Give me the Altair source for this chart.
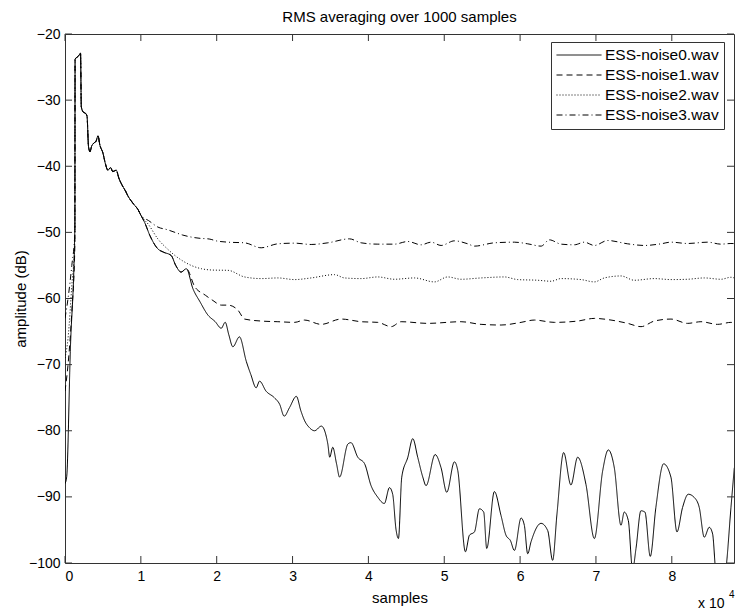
import altair as alt
import pandas as pd

FONT = "Liberation Sans"
AXC = "#333333"

series_names = ["ESS-noise0.wav", "ESS-noise1.wav", "ESS-noise2.wav", "ESS-noise3.wav"]
dash_patterns = [[1, 0], [6, 4], [1, 2], [6, 3, 1, 3]]

x_ticks = [0, 10000, 20000, 30000, 40000, 50000, 60000, 70000, 80000]
y_ticks = [-100, -90, -80, -70, -60, -50, -40, -30, -20]

# shared early part (all four recordings overlap)
early_x = [1330, 1600, 1800, 2050, 2150, 2400, 2700, 2900, 3100, 3300, 3500, 3800, 4100,
           4350, 4600, 5000, 5300, 5660, 6000, 6300, 6760, 7100, 7500, 8000, 8300, 8700,
           9100, 9600, 10050]
early_y = [-23.8, -23.5, -23.3, -22.9, -31.0, -31.8, -32.0, -32.4, -37.0, -37.8, -37.0, -36.5,
           -36.2, -35.4, -36.8, -38.0, -39.5, -40.6, -40.2, -40.8, -40.6, -41.8, -42.8, -43.8,
           -44.5, -45.2, -45.8, -46.5, -47.5]

# onsets
n0_start_x = [0, 220, 700, 1300]
n0_start_y = [-88, -87, -68, -49]
n1_start_x = [0, 400, 900, 1300]
n1_start_y = [-74, -70, -62, -52]
n2_start_x = [0, 400, 900, 1300]
n2_start_y = [-69, -66, -58, -51]
n3_start_x = [0, 400, 900, 1300]
n3_start_y = [-63, -60, -55, -50]

# tails
n0_x = [10500, 11200, 12250, 13000, 14000, 14600, 15300, 16000, 16860, 17800, 18840, 19800,
        20600, 21120, 21600, 22130, 23000, 23900, 24500, 25200, 25650, 26500, 27600, 28300,
        28900, 29600, 30500, 31100, 31600, 32200, 32900, 33800, 34650, 34900, 35300, 35800,
        36200, 37300, 37700, 38600, 39500, 40350, 41200, 42100, 42780, 43200, 43650, 43960,
        44400, 45200, 45850, 46500, 47170, 47600, 48800, 49580, 50330, 51340, 51780, 52790,
        53320, 53980, 54640, 55200, 55600, 56610, 57480, 58140, 58720, 59250, 60130, 60560,
        61000, 61440, 62760, 63640, 64290, 64860, 65740, 66700, 67590, 68680, 69790, 70880,
        71630, 72420, 73300, 73730, 74270, 74830, 75280, 75930, 76460, 77160, 77900, 78920,
        79880, 80680, 81420, 82170, 82970, 83620, 84280, 84940, 85380, 85810, 86500, 87130,
        87800, 88240]
n0_y = [-48.5, -50.5, -52.5, -53.0, -53.5, -55.0, -56.0, -55.5, -58.5, -60.5, -62.5, -63.5,
        -64.5, -63.6, -65.5, -67.3, -65.8, -69.5, -71.5, -73.5, -72.5, -74.0, -75.0, -76.0,
        -77.8, -76.5, -74.8, -77.0, -78.5, -79.5, -80.0, -79.3, -82.0, -84.0, -82.5, -85.0,
        -87.0, -82.0, -81.8, -84.0, -85.0, -88.3, -90.0, -91.0, -88.6, -89.6, -95.0, -96.3,
        -87.0, -84.0, -81.2, -84.0, -87.0, -88.3, -83.6, -85.6, -89.3, -84.7, -86.0, -98.3,
        -95.8, -95.3, -91.8, -92.3, -97.8, -89.2, -92.8, -95.8, -96.6, -98.1, -93.2, -94.3,
        -98.6, -96.8, -94.0, -95.1, -99.6, -92.6, -83.3, -88.2, -84.0, -88.1, -96.3, -86.1,
        -82.9, -85.6, -94.3, -92.3, -93.6, -101.0, -97.8, -92.1, -92.3, -99.0, -91.6, -85.0,
        -87.0, -95.3, -91.6, -89.6, -90.1, -91.6, -96.1, -94.6, -95.6, -101.5, -104.0, -101.0,
        -91.6, -85.6]

n1_x = [10500, 11200, 12250, 13000, 14000, 14600, 15300, 16000, 17100, 18500, 19500, 20600,
        21476, 22794, 23672, 25868, 28064, 30260, 31578, 33774, 36409, 39044, 41240, 42997,
        44314, 47828, 52220, 54855, 57490, 60126, 61882, 64518, 67592, 69788, 71984, 74180,
        75937, 77694, 79890, 82086, 83842, 86038, 87795, 88240]
n1_y = [-48.5, -50.5, -52.5, -53.0, -53.5, -55.0, -56.0, -55.5, -58.2, -59.5, -60.3, -61.0,
        -61.0, -61.75, -63.11, -63.41, -63.51, -63.61, -63.26, -63.91, -63.11, -63.51, -63.61,
        -64.26, -63.51, -63.76, -63.51, -63.91, -64.01, -63.61, -63.26, -63.61, -63.41, -63.01,
        -63.26, -63.76, -64.26, -63.41, -63.11, -63.76, -63.51, -63.91, -63.61, -63.7]

n2_x = [11000, 12250, 13500, 14500, 15500, 16640, 18000, 19500, 21476, 23672, 25868, 28064,
        30260, 32456, 35530, 36848, 39044, 41240, 43436, 46071, 48706, 50463, 52220, 54855,
        57930, 59686, 62322, 64078, 65396, 68031, 69788, 71106, 73302, 75058, 77694, 79890,
        82086, 84282, 86478, 87795, 88240]
n2_y = [-48.8, -51.0, -52.5, -53.5, -54.3, -55.0, -55.5, -55.7, -55.74, -56.74, -56.99, -56.89,
        -57.14, -56.89, -56.39, -56.89, -56.99, -56.74, -57.09, -56.89, -57.49, -56.74, -57.09,
        -56.89, -56.74, -57.14, -57.24, -57.39, -56.99, -57.14, -57.49, -56.89, -56.59, -57.24,
        -56.99, -57.14, -57.09, -56.89, -57.09, -56.79, -56.9]

n3_x = [11000, 12250, 13500, 14500, 15500, 16600, 17800, 19000, 20000, 21476, 23672, 25868,
        28064, 30260, 32456, 34652, 37507, 39044, 41240, 43436, 45193, 46950, 48267, 49585,
        51342, 53098, 53977, 56612, 59247, 61004, 62761, 63859, 65396, 67153, 68470, 69788,
        71545, 74180, 76376, 78572, 79890, 82086, 84721, 86478, 87795, 88240]
n3_y = [-48.2, -49.2, -49.6, -50.0, -50.4, -50.7, -50.9, -51.0, -51.3, -51.48, -51.58, -52.33,
        -51.73, -51.63, -51.83, -51.58, -50.98, -51.58, -51.78, -51.78, -51.38, -51.88, -51.48,
        -51.98, -51.28, -51.73, -52.08, -51.58, -51.48, -51.73, -52.08, -51.13, -51.78, -51.88,
        -51.48, -51.98, -51.23, -51.73, -51.98, -51.73, -51.48, -51.68, -51.48, -51.78, -51.68,
        -51.7]

rows = []
parts = [
    (n0_start_x + early_x + n0_x, n0_start_y + early_y + n0_y),
    (n1_start_x + early_x + n1_x, n1_start_y + early_y + n1_y),
    (n2_start_x + early_x + n2_x, n2_start_y + early_y + n2_y),
    (n3_start_x + early_x + n3_x, n3_start_y + early_y + n3_y),
]
for name, (xs, ys) in zip(series_names, parts):
    for i, (xv, yv) in enumerate(zip(xs, ys)):
        rows.append({"series": name, "samples": xv, "db": yv, "idx": i})
df = pd.DataFrame(rows)

W, H = 669, 529
x_scale = alt.Scale(domain=[0, 88200], nice=False, zero=False)
y_scale = alt.Scale(domain=[-100, -20], nice=False, zero=False)

lines = alt.Chart(df).mark_line(clip=True, strokeWidth=1, color="black", interpolate="monotone").encode(
    x=alt.X("samples:Q", scale=x_scale,
            axis=alt.Axis(values=x_ticks, labelExpr="datum.value / 10000", title="samples",
                          ticks=False, domain=False, grid=False, labelPadding=6, titlePadding=7)),
    y=alt.Y("db:Q", scale=y_scale,
            axis=alt.Axis(values=y_ticks, title="amplitude (dB)", ticks=False, domain=False,
                          grid=False, labelPadding=5, titlePadding=0)),
    strokeDash=alt.StrokeDash("series:N",
                              scale=alt.Scale(domain=series_names, range=dash_patterns),
                              legend=alt.Legend(title=None, orient="none", legendX=486, legendY=8)),
    order="idx:Q",
)

xt = pd.DataFrame({"v": x_ticks})
yt = pd.DataFrame({"v": y_ticks})
TL = 7
bottom_ticks = alt.Chart(xt).mark_rule(color=AXC).encode(
    x=alt.X("v:Q", scale=x_scale), y=alt.value(H), y2=alt.value(H - TL))
top_ticks = alt.Chart(xt).mark_rule(color=AXC).encode(
    x=alt.X("v:Q", scale=x_scale), y=alt.value(0), y2=alt.value(TL))
left_ticks = alt.Chart(yt).mark_rule(color=AXC).encode(
    y=alt.Y("v:Q", scale=y_scale), x=alt.value(0), x2=alt.value(TL))
right_ticks = alt.Chart(yt).mark_rule(color=AXC).encode(
    y=alt.Y("v:Q", scale=y_scale), x=alt.value(W), x2=alt.value(W - TL))

exp_base = alt.Chart(pd.DataFrame({"t": ["x 10"]})).mark_text(
    font=FONT, fontSize=14, align="left", baseline="alphabetic", color="black"
).encode(text="t:N", x=alt.value(633), y=alt.value(574))
exp_sup = alt.Chart(pd.DataFrame({"t": ["4"]})).mark_text(
    font=FONT, fontSize=10, align="left", baseline="alphabetic", color="black"
).encode(text="t:N", x=alt.value(664), y=alt.value(564))

chart = alt.layer(lines, bottom_ticks, top_ticks, left_ticks, right_ticks, exp_base, exp_sup).properties(
    width=W, height=H,
    title=alt.TitleParams("RMS averaging over 1000 samples", font=FONT, fontSize=15,
                          fontWeight="normal", color="black", anchor="middle", offset=2),
    padding={"left": 13, "top": 10, "right": 1, "bottom": 2},
).configure_view(
    stroke=AXC, strokeWidth=1
).configure_axis(
    labelFont=FONT, titleFont=FONT, labelFontSize=14, titleFontSize=15,
    labelColor="black", titleColor="black", titleFontWeight="normal"
).configure_legend(
    cornerRadius=0, symbolType="M-1,0H5", symbolSize=225, symbolStrokeWidth=1,
    symbolStrokeColor="black", labelFontSize=15.5, labelFont=FONT, labelColor="black",
    strokeColor=AXC, fillColor="white", padding=5, rowPadding=3, labelOffset=33
)

chart.save("out.html", embed_options={"renderer": "svg", "actions": False})
